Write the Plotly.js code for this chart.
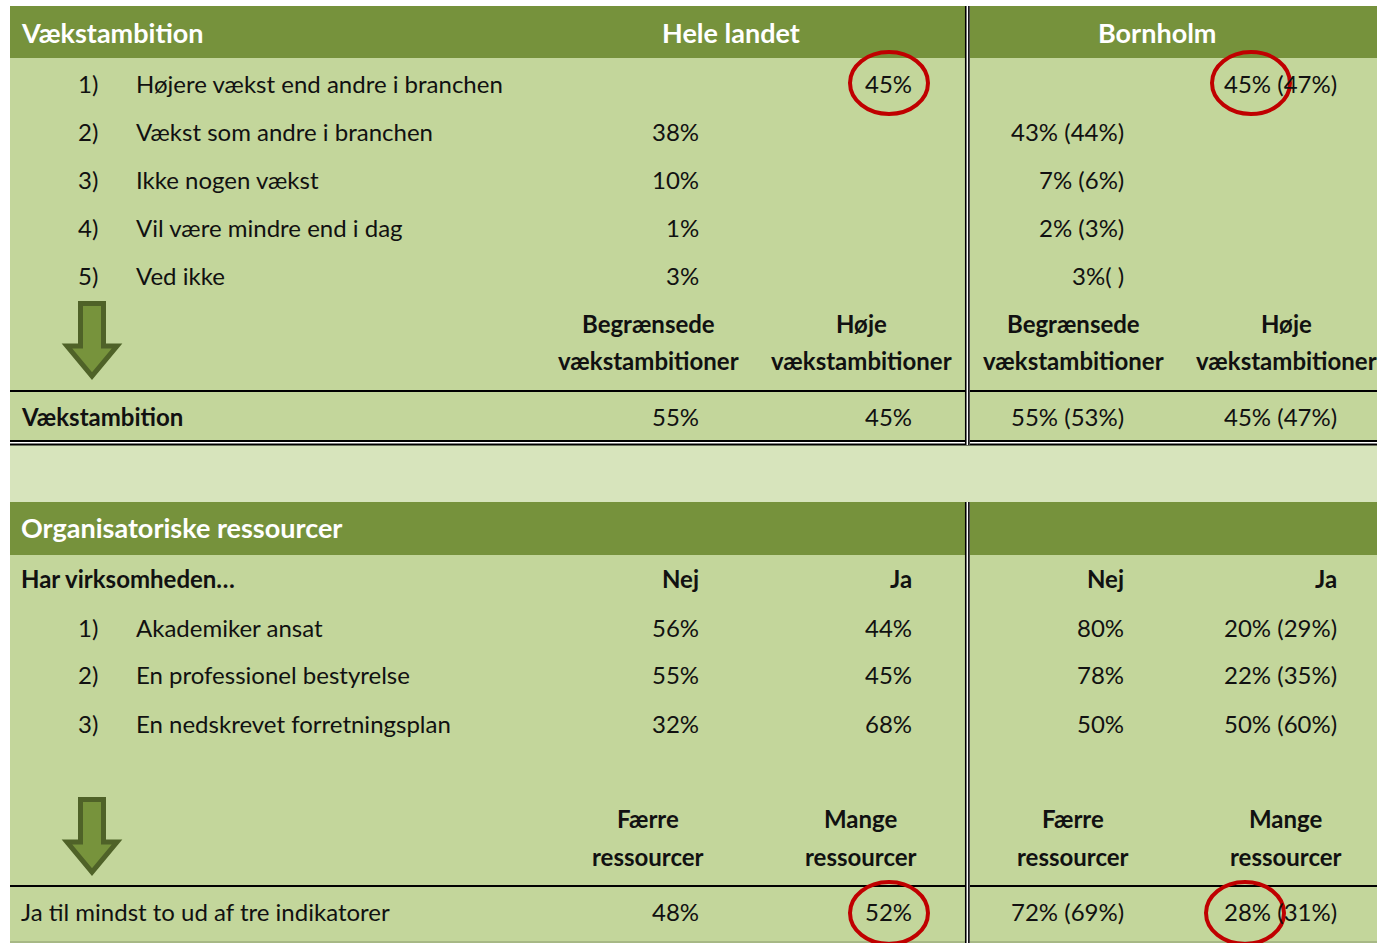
<!DOCTYPE html>
<html>
<head>
<meta charset="utf-8">
<script src="https://cdn.plot.ly/plotly-3.0.1.min.js"></script>
<style>html,body{margin:0;padding:0;background:#fff;overflow:hidden}</style>
</head>
<body>
<div id="chart" style="width:1377px;height:943px"></div>
<script>
// ---------- DATA ----------
var sectionTitles = ["Vækstambition", "Organisatoriske ressourcer"];
var regionTitles = ["Hele landet", "Bornholm"];

var growthNums = ["1)", "2)", "3)", "4)", "5)"];
var growthLabels = ["Højere vækst end andre i branchen", "Vækst som andre i branchen", "Ikke nogen vækst", "Vil være mindre end i dag", "Ved ikke"];
var growthDK = [45, 38, 10, 1, 3];
var growthBH = [45, 43, 7, 2, 3];
var growthBHprev = [47, 44, 6, 3, null];
var growthCol = [2, 1, 1, 1, 1];   // which sub-column (1 = begrænsede, 2 = høje)

var ambHeaders = [["Begrænsede", "vækstambitioner"], ["Høje", "vækstambitioner"]];
var ambLabel = "Vækstambition";
var ambDK = [55, 45];
var ambBH = [55, 45];
var ambBHprev = [53, 47];

var resQuestion = "Har virksomheden…";
var resColHeaders = ["Nej", "Ja"];
var resNums = ["1)", "2)", "3)"];
var resLabels = ["Akademiker ansat", "En professionel bestyrelse", "En nedskrevet forretningsplan"];
var resDKnej = [56, 55, 32];
var resDKja = [44, 45, 68];
var resBHnej = [80, 78, 50];
var resBHja = [20, 22, 50];
var resBHjaPrev = [29, 35, 60];

var finHeaders = [["Færre", "ressourcer"], ["Mange", "ressourcer"]];
var finLabel = "Ja til mindst to ud af tre indikatorer";
var finDK = [48, 52];
var finBH = [72, 28];
var finBHprev = [69, 31];

// ---------- STYLE / LAYOUT HELPERS ----------
var DARK = "#76923C", LIGHT = "#C3D69B", PALE = "#D7E4BC", RED = "#C00000";
var FONT = "Lato, 'Open Sans', sans-serif";
var FS = 24, FSH = 27;
var X0 = 10, X1 = 1377;
var colRight = [701, 914, 1126, 1339];   // right edges of value text
var colCenter = [648, 861, 1073, 1286];  // centres of header text
var VX = 965;                            // vertical double line

function pct(v) { return v + "%"; }
function pctPrev(v, p) { return p === null ? v + "%( )" : v + "% (" + p + "%)"; }

var ann = [];
function txt(x, y, s, anchor, bold, color, size) {
  ann.push({x: x, y: y, xref: "x", yref: "y", text: bold ? "<b>" + s + "</b>" : s,
    showarrow: false, xanchor: anchor, yanchor: "middle", yshift: 1,
    font: {family: FONT, size: size || FS, color: color || "#111"}});
}

var shapes = [];
function rect(x0, y0, x1, y1, fill) {
  shapes.push({type: "rect", xref: "x", yref: "y", x0: x0, y0: y0, x1: x1, y1: y1,
    fillcolor: fill, line: {width: 0}, layer: "below"});
}
function hline(y, w, color, x0, x1) {
  shapes.push({type: "line", xref: "x", yref: "y", x0: x0 || X0, x1: x1 || X1, y0: y, y1: y,
    line: {color: color || "#000", width: w}});
}
function vdouble(y0, y1) {
  shapes.push({type: "rect", xref: "x", yref: "y", x0: VX, x1: VX + 5, y0: y0, y1: y1, fillcolor: "#fff", line: {width: 0}});
  shapes.push({type: "line", xref: "x", yref: "y", x0: VX + 0.75, x1: VX + 0.75, y0: y0, y1: y1, line: {color: "#000", width: 1.6}});
  shapes.push({type: "line", xref: "x", yref: "y", x0: VX + 3.9, x1: VX + 3.9, y0: y0, y1: y1, line: {color: "#000", width: 1.6}});
}
function ellipse(cx, cy) {
  shapes.push({type: "circle", xref: "x", yref: "y", x0: cx - 39, x1: cx + 39, y0: cy - 31, y1: cy + 31,
    line: {color: RED, width: 4}, fillcolor: "rgba(0,0,0,0)"});
}
function arrow(top) {
  // down arrow (stroke centre-line): shaft 80.5..103.5, head 67..117
  var t = top + 2.5, hy = top + 45, tip = top + 75;
  var p = "M 80.5 " + t + " L 103.5 " + t + " L 103.5 " + hy + " L 117 " + hy +
          " L 92 " + tip + " L 67 " + hy + " L 80.5 " + hy + " Z";
  shapes.push({type: "path", xref: "x", yref: "y", path: p, fillcolor: "#77933C",
    line: {color: "#4F6228", width: 5}});
}

// ---------- BACKGROUNDS ----------
rect(X0, 6, X1, 58, DARK);
rect(X0, 58, X1, 445, LIGHT);
rect(X0, 445, X1, 502, PALE);
rect(X0, 502, X1, 555, DARK);
rect(X0, 555, X1, 943, LIGHT);

// ---------- SECTION 1 ----------
txt(19, 33, sectionTitles[0], "left", true, "#fff", FSH);
txt(731, 33, regionTitles[0], "center", true, "#fff", FSH);
txt(1157, 33, regionTitles[1], "center", true, "#fff", FSH);

var rowY1 = [84, 132, 180, 228, 276];
for (var i = 0; i < growthLabels.length; i++) {
  var y = rowY1[i];
  txt(76, y, growthNums[i], "left");
  txt(134, y, growthLabels[i], "left");
  txt(colRight[growthCol[i] - 1], y, pct(growthDK[i]), "right");
  var bhTxt = pctPrev(growthBH[i], growthBHprev[i]);
  txt(colRight[growthCol[i] + 1], y, bhTxt, "right");
}
for (var c = 0; c < 4; c++) {
  var h = ambHeaders[c % 2];
  txt(colCenter[c], 324, h[0], "center", true);
  txt(colCenter[c], 361, h[1], "center", true);
}
arrow(301);
hline(391, 2);
txt(19, 417, ambLabel, "left", true);
txt(colRight[0], 417, pct(ambDK[0]), "right");
txt(colRight[1], 417, pct(ambDK[1]), "right");
txt(colRight[2], 417, pctPrev(ambBH[0], ambBHprev[0]), "right");
txt(colRight[3], 417, pctPrev(ambBH[1], ambBHprev[1]), "right");
shapes.push({type: "rect", xref: "x", yref: "y", x0: X0, x1: X1, y0: 441, y1: 444, fillcolor: "#fff", line: {width: 0}});
hline(441, 2);
hline(444.5, 2);
vdouble(6, 445);

// ---------- SECTION 2 ----------
txt(19, 528, sectionTitles[1], "left", true, "#fff", FSH);
txt(19, 579, resQuestion, "left", true);
for (var c2 = 0; c2 < 4; c2++) txt(colRight[c2], 579, "<b>" + resColHeaders[c2 % 2] + "</b>", "right");
var rowY2 = [628, 675, 724];
for (var j = 0; j < resLabels.length; j++) {
  var yy = rowY2[j];
  txt(76, yy, resNums[j], "left");
  txt(134, yy, resLabels[j], "left");
  txt(colRight[0], yy, pct(resDKnej[j]), "right");
  txt(colRight[1], yy, pct(resDKja[j]), "right");
  txt(colRight[2], yy, pct(resBHnej[j]), "right");
  txt(colRight[3], yy, pctPrev(resBHja[j], resBHjaPrev[j]), "right");
}
for (var c3 = 0; c3 < 4; c3++) {
  var h2 = finHeaders[c3 % 2];
  txt(colCenter[c3], 819, h2[0], "center", true);
  txt(colCenter[c3], 857, h2[1], "center", true);
}
arrow(797);
hline(886, 2);
txt(19, 912, finLabel, "left");
txt(colRight[0], 912, pct(finDK[0]), "right");
txt(colRight[1], 912, pct(finDK[1]), "right");
txt(colRight[2], 912, pctPrev(finBH[0], finBHprev[0]), "right");
txt(colRight[3], 912, pctPrev(finBH[1], finBHprev[1]), "right");
hline(942, 1, "#8A9A70");
vdouble(502, 943);

// ---------- HIGHLIGHT ELLIPSES ----------
ellipse(889, 83);
ellipse(1251, 83);
ellipse(889, 913);
ellipse(1245, 913);

var layout = {
  width: 1377, height: 943,
  margin: {l: 0, r: 0, t: 0, b: 0},
  paper_bgcolor: "#fff", plot_bgcolor: "#fff",
  showlegend: false,
  xaxis: {range: [0, 1377], visible: false, fixedrange: true},
  yaxis: {range: [943, 0], visible: false, fixedrange: true},
  shapes: shapes,
  annotations: ann
};
Plotly.newPlot("chart", [{x: [], y: [], type: "scatter", mode: "markers", hoverinfo: "skip"}], layout,
  {displayModeBar: false, staticPlot: true});
</script>
</body>
</html>
